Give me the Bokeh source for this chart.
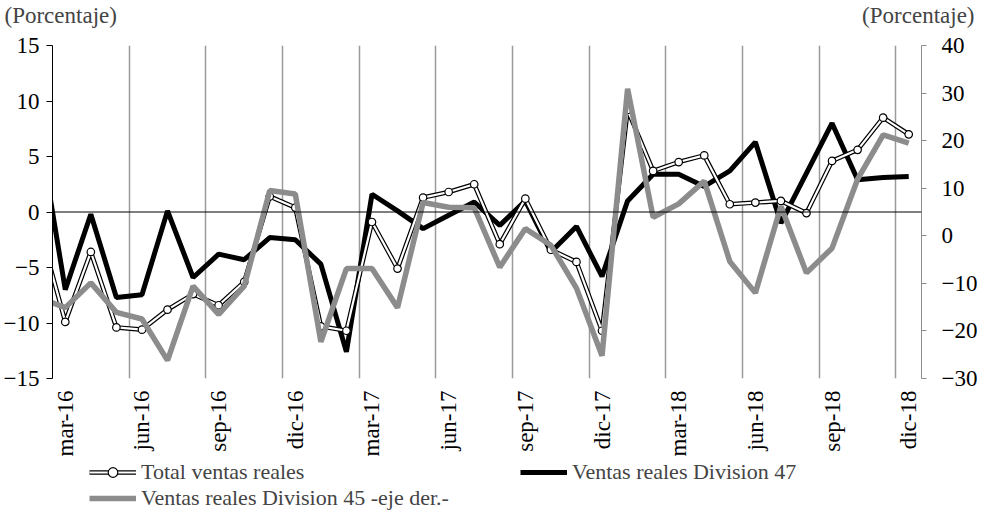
import math
from bokeh.plotting import figure
from bokeh.layouts import column
from bokeh.models import (Range1d, LinearAxis, FixedTicker, Span, Legend,
                          LegendItem, Label)
from bokeh.embed import file_html
from bokeh.resources import INLINE

# ---- data (feb-16 .. dic-18; feb-16 lies just outside the visible axis) ----
months = ["feb-16", "mar-16", "abr-16", "may-16", "jun-16", "jul-16", "ago-16",
          "sep-16", "oct-16", "nov-16", "dic-16", "ene-17", "feb-17", "mar-17",
          "abr-17", "may-17", "jun-17", "jul-17", "ago-17", "sep-17", "oct-17",
          "nov-17", "dic-17", "ene-18", "feb-18", "mar-18", "abr-18", "may-18",
          "jun-18", "jul-18", "ago-18", "sep-18", "oct-18", "nov-18", "dic-18"]

total_ventas = [-1.5, -9.9, -3.6, -10.4, -10.6, -8.8, -7.4, -8.4, -6.3, 1.4, 0.4,
                -10.3, -10.7, -0.9, -5.1, 1.3, 1.8, 2.5, -2.9, 1.2, -3.4, -4.5,
                -10.7, 9.2, 3.7, 4.5, 5.1, 0.7, 0.85, 1.0, -0.1, 4.6, 5.6, 8.5, 7.0]

division_47 = [7.0, -7.0, -0.2, -7.7, -7.45, 0.1, -5.9, -3.8, -4.3, -2.3, -2.5,
               -4.7, -12.6, 1.6, 0.1, -1.5, -0.3, 0.9, -1.2, 1.0, -3.6, -1.3,
               -5.8, 1.0, 3.4, 3.4, 2.3, 3.7, 6.3, -1.0, 3.5, 8.0, 2.9, 3.1, 3.2]

division_45 = [-13.1, -15.1, -9.9, -16.1, -17.5, -26.2, -10.6, -16.5, -10.6, 9.5,
               8.8, -22.3, -6.9, -6.9, -15.1, 7.0, 6.0, 5.9, -6.6, 1.5, -2.0,
               -11.0, -25.2, 30.9, 3.9, 6.7, 11.5, -5.4, -12.0, 6.2, -7.8, -2.6,
               11.9, 21.2, 19.5]

tick_labels = ["mar-16", "jun-16", "sep-16", "dic-16", "mar-17", "jun-17",
               "sep-17", "dic-17", "mar-18", "jun-18", "sep-18", "dic-18"]
left_ticks = [-15, -10, -5, 0, 5, 10, 15]
right_ticks = [-30, -20, -10, 0, 10, 20, 30, 40]
unit_label = "(Porcentaje)"
series_names = ["Total ventas reales", "Ventas reales Division 47",
                "Ventas reales Division 45 -eje der.-"]

# category positions: mar-16 = 0
x = [i - 1 for i in range(len(months))]
tick_pos = [x[months.index(t)] for t in tick_labels]
n_vis = len(months) - 1

FONT = "Liberation Serif"
FS = "23px"
GRAY = "#8c8c8c"
W = 980
TOP_H = 29
LEG_H = 52
MAIN_H = 511 - TOP_H - LEG_H
NAN = float("nan")

# ---------------- top strip with the unit labels ----------------
top = figure(width=W, height=TOP_H, x_range=Range1d(0, W), y_range=Range1d(0, TOP_H),
             x_axis_location=None, y_axis_location=None, min_border=0,
             output_backend="svg", toolbar_location=None, outline_line_color=None)
top.frame_align = False
top.grid.visible = False
top.add_layout(Label(x=4, y=TOP_H - 15, text=unit_label, text_font=FONT,
                     text_font_size=FS, text_baseline="middle", text_align="left"))
top.add_layout(Label(x=W - 6, y=TOP_H - 15, text=unit_label, text_font=FONT,
                     text_font_size=FS, text_baseline="middle", text_align="right"))

# ---------------- main chart ----------------
p = figure(width=W, height=MAIN_H, x_range=Range1d(-0.5, n_vis - 0.5),
           y_range=Range1d(-15, 15), output_backend="svg", toolbar_location=None,
           min_border_left=51, min_border_right=51, min_border_top=16,
           min_border_bottom=MAIN_H - 16 - 337, outline_line_color=None)
p.extra_y_ranges = {"right": Range1d(-30, 40)}

xa = p.xaxis[0]
xa.ticker = FixedTicker(ticks=tick_pos)
xa.major_label_overrides = {tp: lab for tp, lab in zip(tick_pos, tick_labels)}
xa.major_label_orientation = math.pi / 2
xa.axis_line_color = None
xa.major_tick_line_color = None
xa.minor_tick_line_color = None
xa.major_label_standoff = 6
xa.major_label_text_font = FONT
xa.major_label_text_font_size = FS
xa.major_label_text_color = "black"

p.xgrid.ticker = FixedTicker(ticks=[t + 2.5 for t in tick_pos[:-1]])
p.xgrid.grid_line_color = "#9a9a9a"
p.xgrid.grid_line_width = 1.5
p.ygrid.visible = False

ya = p.yaxis[0]
ya.ticker = FixedTicker(ticks=left_ticks)
ya.axis_line_color = "black"
ya.major_tick_line_color = "black"
ya.major_tick_out = 6
ya.major_tick_in = 0
ya.minor_tick_line_color = None
ya.major_label_standoff = 7
ya.major_label_text_font = FONT
ya.major_label_text_font_size = FS
ya.major_label_text_color = "black"

ra = LinearAxis(y_range_name="right", ticker=FixedTicker(ticks=right_ticks))
ra.axis_line_color = GRAY
ra.major_tick_line_color = GRAY
ra.major_tick_out = 5
ra.major_tick_in = 0
ra.minor_tick_line_color = None
ra.major_label_standoff = 15
ra.major_label_text_font = FONT
ra.major_label_text_font_size = FS
ra.major_label_text_color = "black"
p.add_layout(ra, "right")

p.add_layout(Span(location=0, dimension="width", line_color="black", line_width=1))

TOT_OUT = dict(line_color="black", line_width=4.6)
TOT_IN = dict(line_color="white", line_width=2.2)
TOT_PT = dict(marker="circle", size=7.5, fill_color="white", line_color="black",
              line_width=1.2)
D47 = dict(line_color="black", line_width=5)
D45 = dict(line_color=GRAY, line_width=5.5)

p.line(x, division_47, **D47)
p.line(x, total_ventas, **TOT_OUT)
p.line(x, total_ventas, **TOT_IN)
p.scatter(x, total_ventas, **TOT_PT)
p.line(x, division_45, y_range_name="right", **D45)

# ---------------- legend strip ----------------
lg = figure(width=W, height=LEG_H, x_range=Range1d(0, 1), y_range=Range1d(0, 1),
            x_axis_location=None, y_axis_location=None, min_border=0,
            output_backend="svg", toolbar_location=None, outline_line_color=None)
lg.frame_align = False
lg.grid.visible = False
lt1 = lg.line([NAN], [NAN], **TOT_OUT)
lt2 = lg.line([NAN], [NAN], **TOT_IN)
lt3 = lg.scatter([NAN], [NAN], **TOT_PT)
l47 = lg.line([NAN], [NAN], **D47)
l45 = lg.line([NAN], [NAN], **D45)

legend = Legend(items=[
    LegendItem(label=series_names[0], renderers=[lt1, lt2, lt3]),
    LegendItem(label=series_names[1], renderers=[l47]),
    LegendItem(label=series_names[2], renderers=[l45]),
], ncols=2, orientation="horizontal", location=(89, 0), margin=0, padding=0,
   spacing=0, glyph_width=47, glyph_height=24, label_standoff=5,
   label_width=379, label_height=24, label_text_font=FONT,
   label_text_font_size="22px", border_line_color=None, background_fill_alpha=0)
lg.add_layout(legend)

open("out.html", "w").write(file_html(column(top, p, lg, spacing=0), INLINE))
